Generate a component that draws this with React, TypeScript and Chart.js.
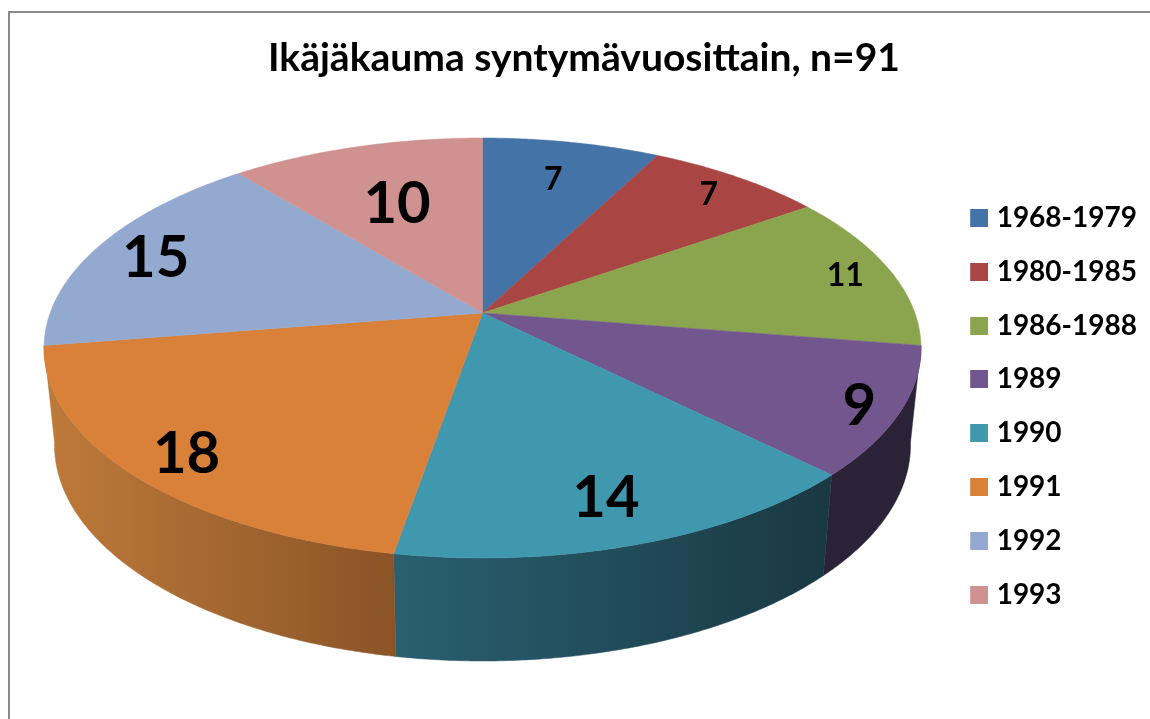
import React, { useEffect, useRef } from "react";
import { Chart, registerables } from "chart.js";

Chart.register(...registerables);

const categories = ["1968-1979", "1980-1985", "1986-1988", "1989", "1990", "1991", "1992", "1993"];
const counts = [7, 7, 11, 9, 14, 18, 15, 10];
const faceColors = ["#4473A8", "#A94643", "#8AA54E", "#71578E", "#4098AF", "#D98039", "#93A9CF", "#D09291"];
const wallStart = ["#2A4565", "#662A28", "#53632F", "#2C2238", "#2A6070", "#BE7A3A", "#58657C", "#7D5857"];
const wallEnd = ["#2A4565", "#662A28", "#53632F", "#2C2238", "#193842", "#8A5427", "#58657C", "#7D5857"];
const labelRadius = [0.77, 0.875, 0.889, 0.909, 0.813, 0.863, 0.849, 0.643];
const labelSize = [32, 32, 32, 58, 58, 58, 58, 58];

const TITLE = "Ikäjäkauma syntymävuosittain, n=91";
const FONT = "Lato, 'Noto Sans', sans-serif";

const TOP = { cx: 482.5, cy: 348, rx: 438.5, ry: 210 };
const BOTTOM = { cx: 482.5, cy: 445, rx: 428, ry: 216 };
const BETA = -35 / 210;
const GAMMA = 1 / Math.sqrt(1 - BETA * BETA);

function project(angle: number, r: number) {
  const x = r * Math.cos(angle);
  const y = r * Math.sin(angle);
  const d = 1 + BETA * y;
  return { u: x / (GAMMA * d), v: (y + BETA) / d };
}
const onTop = (p: { u: number; v: number }) => ({ x: TOP.cx + p.u * TOP.rx, y: TOP.cy + p.v * TOP.ry });
const onBottom = (p: { u: number; v: number }) => ({ x: BOTTOM.cx + p.u * BOTTOM.rx, y: BOTTOM.cy + p.v * BOTTOM.ry });

function samples(a0: number, a1: number) {
  const n = Math.max(8, Math.ceil((a1 - a0) * 120));
  const out: { u: number; v: number }[] = [];
  for (let i = 0; i <= n; i++) out.push(project(a0 + ((a1 - a0) * i) / n, 1));
  return out;
}

function swatch(color: string) {
  const c = document.createElement("canvas");
  c.width = 24;
  c.height = 18;
  const g = c.getContext("2d") as CanvasRenderingContext2D;
  g.fillStyle = color;
  g.fillRect(6, 0, 18, 18);
  return c;
}

const perspectivePie = {
  id: "perspectivePie",
  beforeDraw(chart: any) {
    const { ctx, width, height } = chart;
    ctx.save();
    ctx.fillStyle = "#ffffff";
    ctx.fillRect(0, 0, width, height);
    ctx.strokeStyle = "#8a8a8a";
    ctx.lineWidth = 2;
    ctx.beginPath();
    ctx.moveTo(9, height);
    ctx.lineTo(9, 12);
    ctx.lineTo(width, 12);
    ctx.stroke();
    ctx.restore();
  },
  beforeDatasetsDraw(chart: any) {
    const { ctx } = chart;
    const arcs = chart.getDatasetMeta(0).data as any[];
    ctx.save();

    // side walls
    arcs.forEach((arc, i) => {
      const pts = samples(arc.startAngle, arc.endAngle).filter((p) => p.v >= -0.02);
      if (pts.length < 2) return;
      const t = pts.map(onTop);
      const b = pts.map(onBottom);
      const xs = t.concat(b).map((p) => p.x);
      const g = ctx.createLinearGradient(Math.min(...xs), 0, Math.max(...xs), 0);
      g.addColorStop(0, wallStart[i]);
      g.addColorStop(1, wallEnd[i]);
      ctx.beginPath();
      t.forEach((p, k) => (k ? ctx.lineTo(p.x, p.y) : ctx.moveTo(p.x, p.y)));
      b.reverse().forEach((p) => ctx.lineTo(p.x, p.y));
      ctx.closePath();
      ctx.fillStyle = g;
      ctx.strokeStyle = g;
      ctx.lineWidth = 0.5;
      ctx.fill();
      ctx.stroke();
    });

    // top faces
    const apex = onTop(project(0, 0));
    arcs.forEach((arc, i) => {
      ctx.beginPath();
      ctx.moveTo(apex.x, apex.y);
      samples(arc.startAngle, arc.endAngle).map(onTop).forEach((p) => ctx.lineTo(p.x, p.y));
      ctx.closePath();
      ctx.fillStyle = faceColors[i];
      ctx.strokeStyle = faceColors[i];
      ctx.lineWidth = 0.5;
      ctx.fill();
      ctx.stroke();
    });

    // value labels
    ctx.fillStyle = "#000000";
    ctx.textAlign = "center";
    ctx.textBaseline = "middle";
    arcs.forEach((arc, i) => {
      const mid = (arc.startAngle + arc.endAngle) / 2;
      const p = onTop(project(mid, labelRadius[i]));
      ctx.font = `bold ${labelSize[i]}px ${FONT}`;
      ctx.fillText(String(counts[i]), p.x, p.y + labelSize[i] * 0.06);
    });
    ctx.restore();
    return false;
  },
};

export default function App() {
  const ref = useRef<HTMLCanvasElement>(null);
  useEffect(() => {
    document.body.style.margin = "0";
    const chart = new Chart(ref.current as HTMLCanvasElement, {
      type: "pie",
      data: {
        labels: categories,
        datasets: [{ data: counts, backgroundColor: faceColors, borderWidth: 0 }],
      },
      plugins: [perspectivePie],
      options: {
        responsive: false,
        animation: false,
        layout: { padding: { left: 21, top: 35, right: 3, bottom: 0 } },
        plugins: {
          title: {
            display: true,
            text: TITLE,
            color: "#000000",
            font: { family: FONT, size: 39, weight: "bold" },
            padding: { top: 0, bottom: 12 },
          },
          legend: {
            position: "right",
            fullSize: false,
            labels: {
              usePointStyle: true,
              pointStyleWidth: 13,
              boxHeight: 18,
              color: "#000000",
              padding: 25.9,
              font: { family: FONT, size: 28, weight: "bold" },
              generateLabels: (c: any) =>
                Chart.overrides.pie.plugins.legend.labels.generateLabels(c).map((item: any, i: number) => ({
                  ...item,
                  pointStyle: swatch(faceColors[i]),
                })),
            },
          },
          tooltip: { enabled: false },
        },
      },
    } as any);
    return () => chart.destroy();
  }, []);
  return (
    <div style={{ width: 1150, height: 719, overflow: "hidden" }}>
      <canvas ref={ref} width={1150} height={719} style={{ display: "block" }} />
    </div>
  );
}
